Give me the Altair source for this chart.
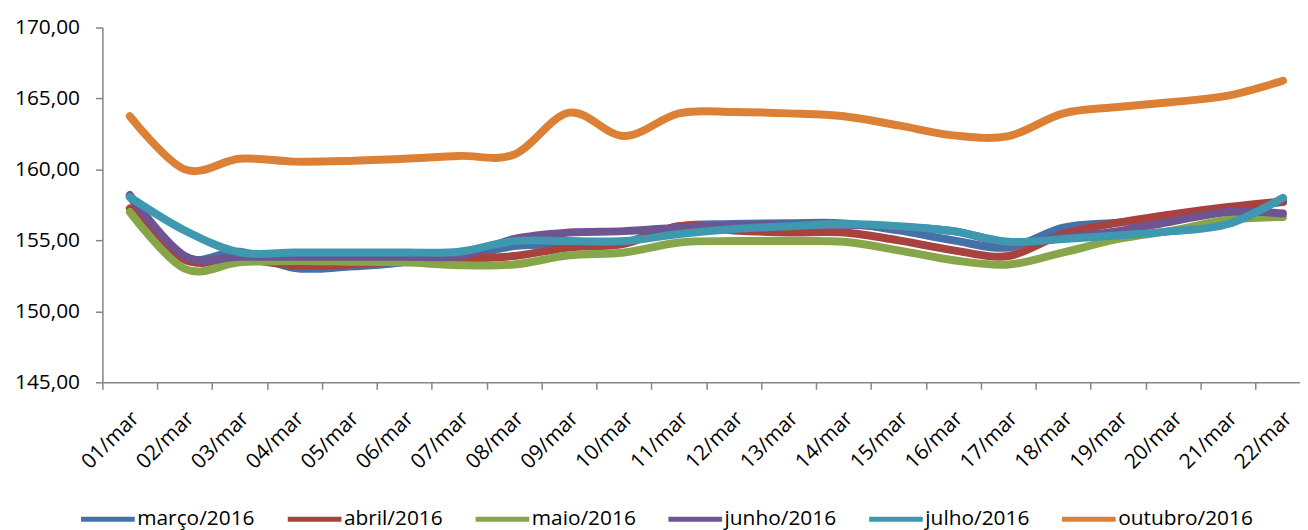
import json
import altair as alt
import pandas as pd

days = ["01/mar", "02/mar", "03/mar", "04/mar", "05/mar", "06/mar", "07/mar",
        "08/mar", "09/mar", "10/mar", "11/mar", "12/mar", "13/mar", "14/mar",
        "15/mar", "16/mar", "17/mar", "18/mar", "19/mar", "20/mar", "21/mar", "22/mar"]

marco = [158.10, 153.80, 154.20, 153.05, 153.15, 153.45, 153.80, 154.60, 154.70, 154.85, 156.00,
         156.15, 156.20, 156.20, 155.70, 155.00, 154.50, 155.90, 156.25, 156.60, 157.20, 157.70]
abril = [157.25, 153.65, 153.70, 153.25, 153.30, 153.55, 153.70, 153.90, 154.50, 154.75, 156.00,
         155.70, 155.55, 155.55, 155.00, 154.30, 153.90, 155.45, 156.25, 156.85, 157.35, 157.75]
maio = [157.00, 153.00, 153.45, 153.55, 153.50, 153.45, 153.25, 153.30, 153.95, 154.15, 154.85,
        154.95, 154.95, 154.90, 154.30, 153.60, 153.30, 154.15, 155.10, 155.70, 156.45, 156.65]
junho = [158.20, 153.90, 153.85, 153.85, 153.85, 153.85, 153.90, 155.10, 155.55, 155.65, 155.90,
         156.05, 156.10, 156.10, 155.95, 155.65, 154.85, 155.20, 155.65, 156.35, 157.00, 156.90]
julho = [158.05, 155.70, 154.15, 154.15, 154.15, 154.15, 154.20, 154.95, 154.95, 154.95, 155.45,
         155.80, 156.00, 156.15, 156.00, 155.65, 154.90, 155.10, 155.35, 155.65, 156.15, 158.00]
outubro = [163.75, 160.00, 160.75, 160.55, 160.60, 160.75, 160.95, 161.05, 164.00, 162.35, 163.95,
           164.05, 163.95, 163.75, 163.10, 162.40, 162.35, 163.95, 164.40, 164.75, 165.20, 166.25]

series_names = ["março/2016", "abril/2016", "maio/2016", "junho/2016", "julho/2016", "outubro/2016"]
series_values = [marco, abril, maio, junho, julho, outubro]
colors = ["#4472A8", "#A9423F", "#87A64A", "#6E5591", "#3E98B0", "#DC8036"]
y_ticks = [145, 150, 155, 160, 165, 170]

rows = []
for name, vals in zip(series_names, series_values):
    for i, (d, v) in enumerate(zip(days, vals)):
        rows.append({"idx": i, "dia": d, "serie": name, "valor": v})
df = pd.DataFrame(rows)

FONT = "Open Sans"
AXIS_COLOR = "#868686"

PLOT_W = 1205
X_MAX = 21.31          # the last category band runs past the right edge, as in the reference
STEP = PLOT_W / (X_MAX + 0.5)
HALF = STEP / 2

x_enc = alt.X(
    "idx:Q",
    scale=alt.Scale(domain=[-0.5, X_MAX], nice=False, zero=False),
    axis=alt.Axis(
        title=None, values=list(range(len(days))),
        labelExpr=json.dumps(days) + "[datum.value]",
        labelAngle=-45, labelAlign="right", labelBaseline="middle",
        labelFont=FONT, labelFontSize=21, labelColor="black",
        tickOffset=-HALF, labelOffset=HALF + 5.5,
        domainColor=AXIS_COLOR, domainWidth=1.5, tickColor=AXIS_COLOR, tickWidth=1.5,
        tickSize=7, labelPadding=26, grid=False, labelOverlap=False, labelFlush=False,
    ),
)
y_enc = alt.Y(
    "valor:Q",
    scale=alt.Scale(domain=[145, 170], nice=False, zero=False),
    axis=alt.Axis(
        title=None, values=y_ticks, labelFont=FONT, labelFontSize=21, labelColor="black",
        labelExpr="replace(format(datum.value, '.2f'), '.', ',')",
        domainColor=AXIS_COLOR, domainWidth=1.5, tickColor=AXIS_COLOR, tickWidth=1.5,
        tickSize=7, labelPadding=16, grid=False,
    ),
)
color_enc = alt.Color(
    "serie:N",
    scale=alt.Scale(domain=series_names, range=colors),
    legend=alt.Legend(
        title=None, orient="none", legendX=-24, legendY=465, direction="horizontal",
        columns=6, symbolType="stroke", symbolSize=2916, symbolStrokeWidth=5,
        labelFont=FONT, labelFontSize=21, labelColor="black", labelOffset=0,
        columnPadding=22,
    ),
)

layers = []
for name in series_names:
    layers.append(
        alt.Chart(df)
        .transform_filter(alt.datum.serie == name)
        .mark_line(interpolate="cardinal", strokeWidth=8, strokeCap="round", strokeJoin="round")
        .encode(x=x_enc, y=y_enc, color=color_enc)
    )

chart = (
    alt.layer(*layers)
    .properties(
        width=PLOT_W, height=357,
        autosize=alt.AutoSizeParams(type="none"),
        padding={"left": 95, "top": 18, "right": 0, "bottom": 147},
    )
    .configure_view(stroke=None)
)

chart.save("out.html", embed_options={"renderer": "svg", "actions": False})
